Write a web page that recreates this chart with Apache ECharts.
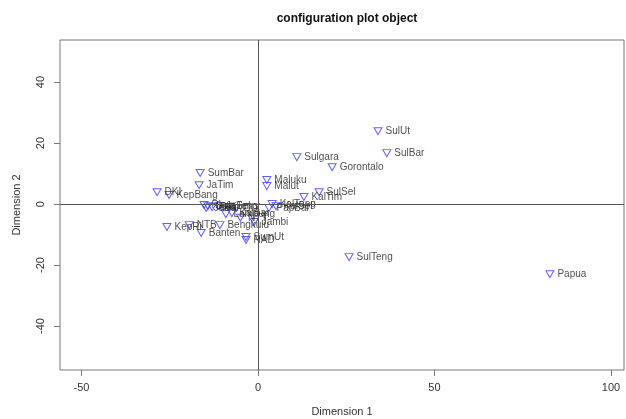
<!DOCTYPE html>
<html><head><meta charset="utf-8">
<script src="https://cdn.jsdelivr.net/npm/echarts@6/dist/echarts.min.js"></script>
<style>html,body{margin:0;padding:0;background:#fff}#c{width:626px;height:419px}</style>
</head><body><div id="c"></div>
<script>
const provinces = ["SulUt","SulBar","Sulgara","Gorontalo","Maluku","Malut","SulSel","KalTim","SumBar","JaTim","DKI","KepBang","SulTeng","Papua","KepRi","NTB","Banten","Bengkulu","Jambi","SumUt","NAD","DIY","Riau","SumSel","Bali","JaBar","JaTeng","Lampung","KalBar","NTT","KalTeng","KalSel","PapBar"];
const dim1 = [34.0,36.5,11.0,21.0,2.5,2.5,17.3,13.0,-16.4,-16.7,-28.6,-25.2,25.8,82.7,-25.8,-19.5,-16.1,-10.8,-1.1,-3.4,-3.4,-6.2,-15.3,-14.2,-13.0,-14.7,-11.3,-9.1,-7.4,-5.0,4.0,5.1,3.1];
const dim2 = [23.9,16.7,15.4,12.1,7.9,5.9,3.9,2.3,10.2,6.2,3.9,3.0,-17.4,-23.0,-7.5,-6.9,-9.5,-6.9,-5.9,-10.8,-11.8,-1.3,-0.3,-0.7,-1.0,-1.3,-0.7,-3.3,-3.0,-4.5,0.0,-0.7,-1.3];
const xTicks = [-50,0,50,100];
const yTicks = [-40,-20,0,20,40];

const font = 'Arial, "Liberation Sans", sans-serif';
const chart = echarts.init(document.getElementById('c'), null, {renderer:'canvas'});
const pts = provinces.map((n,i)=>({name:n, value:[dim1[i], dim2[i]]}));
chart.setOption({
  animation:false,
  title:{text:'configuration plot object', left:342, top:8, textAlign:'center',
    textStyle:{fontFamily:font, fontSize:12, fontWeight:'bold', color:'#111'}},
  grid:{left:60, right:2, top:40, bottom:49, show:true, borderColor:'#777', borderWidth:1,
    containLabel:false, outerBoundsMode:'none'},
  xAxis:{type:'value', min:-56.1, max:103.7, splitLine:{show:false},
    axisLine:{show:false, onZero:false},
    axisTick:{show:true, inside:false, length:6, lineStyle:{color:'#777'}, customValues:xTicks},
    axisLabel:{customValues:xTicks, margin:12, fontFamily:font, fontSize:11, color:'#333'},
    name:'Dimension 1', nameLocation:'middle', nameGap:36,
    nameTextStyle:{fontFamily:font, fontSize:11, color:'#333'}},
  yAxis:{type:'value', min:-54.4, max:53.8, splitLine:{show:false},
    axisLine:{show:false, onZero:false},
    axisTick:{show:true, inside:false, length:6, lineStyle:{color:'#777'}, customValues:yTicks},
    axisLabel:{customValues:yTicks, rotate:90, margin:14, fontFamily:font, fontSize:11, color:'#333'},
    name:'Dimension 2', nameLocation:'middle', nameGap:38,
    nameTextStyle:{fontFamily:font, fontSize:11, color:'#333'}},
  series:[{
    type:'scatter', data:pts,
    symbol:'path://M0,0 L10,0 L5,9 Z', symbolSize:[8,7],
    itemStyle:{color:'rgba(0,0,0,0)', borderColor:'#3a3aff', borderWidth:1},
    label:{show:true, position:'right', distance:3, formatter:'{b}', fontFamily:font, fontSize:10, color:'#222'},
    markLine:{silent:true, symbol:'none', label:{show:false},
      lineStyle:{color:'#555', type:'solid', width:1},
      data:[{xAxis:0},{yAxis:0}]}
  }]
});
</script></body></html>
